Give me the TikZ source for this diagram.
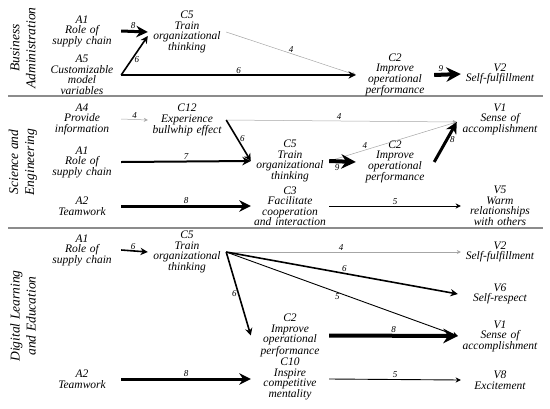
\documentclass[tikz,border=0pt]{standalone}
\usepackage{fontspec}
\setmainfont{Liberation Serif}
\usetikzlibrary{arrows.meta}
\begin{document}
\begin{tikzpicture}[x=1pt,y=-1pt,
  txt/.style={font=\itshape\fontsize{11.5}{10.5}\selectfont, align=center, inner sep=0pt, text width=78pt},
  side/.style={font=\itshape\fontsize{13.5}{16}\selectfont, align=center, rotate=90, inner sep=0pt},
  sep/.style={draw=black!45, line width=2.5pt},
  conn/.style={-{Stealth[length=2.5pt 3, width=2.5pt 3]}},
  w4/.style={conn, draw=black!35, line width=0.5pt},
  w5/.style={conn, line width=0.9pt},
  w6/.style={conn, line width=1.6pt},
  w7/.style={conn, line width=2pt},
  w8/.style={conn, line width=3pt},
  w9/.style={conn, line width=4pt},
  wl/.style={font=\itshape\fontsize{9}{9}\selectfont, inner sep=1pt, text=black},
]
\useasboundingbox (0,0) rectangle (550,408);

% separators
\draw[sep] (8,96) -- (543,96);
\draw[sep] (8,228) -- (543,228);

% ---------- Section 1 ----------
\node[side] (sideBA) at (23,48) {Business\\Administration};
\node[txt] (s1A1) at (82,31) {A1\\Role of\\supply chain};
\node[txt] (s1A5) at (82,75) {A5\\Customizable\\model\\variables};
\node[txt] (s1C5) at (187,32) {C5\\Train\\organizational\\thinking};
\node[txt] (s1C2) at (395,75) {C2\\Improve\\operational\\performance};
\node[txt] (s1V2) at (500,74) {V2\\Self-fulfillment};

\draw[w4] (s1C5.east) -- node[wl,pos=0.5,above] {4} (s1C2.west);
\draw[w6] (s1A5.east) -- node[wl,pos=0.5,above] {6} (s1C2.west);
\draw[w6] (s1A5.east) -- node[wl,pos=0.4,right=1pt] {6} ([yshift=-4pt]s1C5.west);
\draw[w8] (s1A1.east) -- node[wl,pos=0.45,above] {8} (s1C5.west);
\draw[w9] (s1C2.east) -- node[wl,pos=0.25,above] {9} (s1V2.west);

% ---------- Section 2 ----------
\node[side] (sideSE) at (23,162) {Science and\\Engineering};
\node[txt] (s2A4) at (82,119) {A4\\Provide\\information};
\node[txt] (s2C12) at (187,120) {C12\\Experience\\bullwhip effect};
\node[txt] (s2A1) at (82,162) {A1\\Role of\\supply chain};
\node[txt] (s2C5) at (290,161) {C5\\Train\\organizational\\thinking};
\node[txt] (s2C2) at (395,162) {C2\\Improve\\operational\\performance};
\node[txt] (s2V1) at (500,119) {V1\\Sense of\\accomplishment};
\node[txt] (s2A2) at (82,206) {A2\\Teamwork};
\node[txt] (s2C3) at (290,206) {C3\\Facilitate\\cooperation\\and interaction};
\node[txt] (s2V5) at (500,206) {V5\\Warm\\relationships\\with others};

\draw[w4] (s2A4.east) -- node[wl,pos=0.5,above] {4} (s2C12.west);
\draw[w4] (s2C12.east) -- node[wl,pos=0.49,above] {4} ([xshift=-4pt,yshift=-3pt]s2V1.west);
\draw[w4] (s2C5.east) -- node[wl,pos=0.28,above] {4} ([xshift=-4pt,yshift=-3pt]s2V1.west);
\draw[w6] (s2C12.east) -- node[wl,pos=0.45,right=1pt] {6} (s2C5.west);
\draw[w7] (s2A1.east) -- node[wl,pos=0.5,above] {7} (s2C5.west);
\draw[w9] (s2C5.east) -- node[wl,pos=0.3,below] {9} (s2C2.west);
\draw[w8] (s2C2.east) -- node[wl,pos=0.55,right=1pt] {8} ([xshift=-4pt,yshift=-3pt]s2V1.west);
\draw[w8] (s2A2.east) -- node[wl,pos=0.5,above] {8} (s2C3.west);
\draw[w5] (s2C3.east) -- node[wl,pos=0.5,above] {5} (s2V5.west);

% ---------- Section 3 ----------
\node[side] (sideDL) at (23,316) {Digital Learning\\and Education};
\node[txt] (s3A1) at (82,250) {A1\\Role of\\supply chain};
\node[txt] (s3C5) at (187,252) {C5\\Train\\organizational\\thinking};
\node[txt] (s3C2) at (290,335.5) {C2\\Improve\\operational\\performance};
\node[txt] (s3V2) at (500,252) {V2\\Self-fulfillment};
\node[txt] (s3V6) at (500,294) {V6\\Self-respect};
\node[txt] (s3V1) at (500,336) {V1\\Sense of\\accomplishment};
\node[txt] (s3A2) at (82,379) {A2\\Teamwork};
\node[txt] (s3C10) at (290,379) {C10\\Inspire\\competitive\\mentality};
\node[txt] (s3V8) at (500,380) {V8\\Excitement};

\draw[w6] (s3A1.east) -- node[wl,pos=0.45,above] {6} (s3C5.west);
\draw[w4] (s3C5.east) -- node[wl,pos=0.49,above] {4} (s3V2.west);
\draw[w6] (s3C5.east) -- node[wl,pos=0.51,above] {6} ([xshift=-3pt]s3V6.west);
\draw[w5] (s3C5.east) -- node[wl,pos=0.48,below] {5} ([xshift=-3pt]s3V1.west);
\draw[w6] (s3C5.east) -- node[wl,pos=0.5,left=0pt] {6} (s3C2.west);
\draw[w9] (s3C2.east) -- node[wl,pos=0.5,above] {8} ([xshift=-3pt]s3V1.west);
\draw[w8] (s3A2.east) -- node[wl,pos=0.5,above] {8} (s3C10.west);
\draw[w5] (s3C10.east) -- node[wl,pos=0.5,above] {5} (s3V8.west);
\end{tikzpicture}
\end{document}
